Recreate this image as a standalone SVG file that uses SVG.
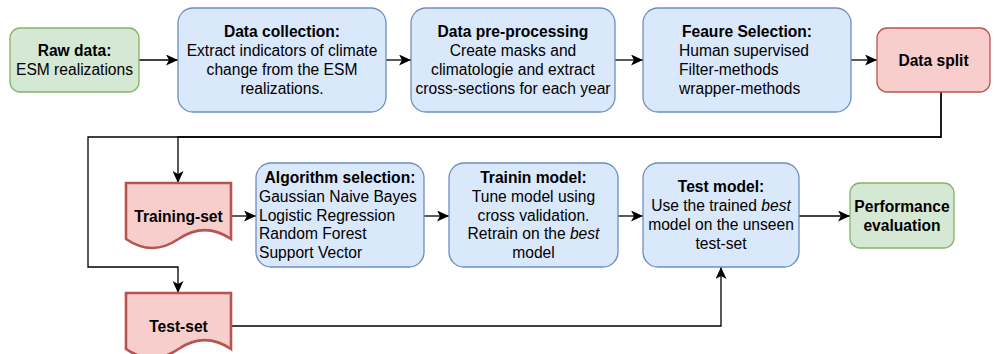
<svg xmlns="http://www.w3.org/2000/svg" width="995" height="354" viewBox="0 0 995 354">
  <style>
    text { font-family: "Liberation Sans", Arial, Helvetica, sans-serif; font-size: 15.6px; fill: #000; }
    .c { text-anchor: middle; }
    .b { font-weight: bold; }
    .i { font-style: italic; }
    .blue { fill: #dae8fc; stroke: #6c8ebf; stroke-width: 1.3; }
    .green { fill: #d5e8d4; stroke: #82b366; stroke-width: 1.3; }
    .red { fill: #f8cecc; stroke: #b85450; stroke-width: 1.3; }
    .doc { fill: #f8cecc; stroke: #b85450; stroke-width: 2.6; }
    .edge { fill: none; stroke: #000; stroke-width: 1.3; marker-end: url(#arrow); }
  </style>
  <defs>
    <marker id="arrow" markerUnits="userSpaceOnUse" markerWidth="13" markerHeight="11" viewBox="0 0 13 11" refX="12" refY="5.5" orient="auto">
      <path d="M0,0 L12,5.5 L0,11 L3,5.5 Z" fill="#000"/>
    </marker>
  </defs>

  <!-- connectors -->
  <g id="edges">
    <path class="edge" d="M139,60 H178"/>
    <path class="edge" d="M386,60 H411"/>
    <path class="edge" d="M615,60 H643"/>
    <path class="edge" d="M851,60 H877"/>
    <path class="edge" d="M941,92 V137 H178 V183"/>
    <path class="edge" d="M941,92 V137 H88 V267 H178 V293"/>
    <path class="edge" d="M231,216 H256"/>
    <path class="edge" d="M424,216 H449"/>
    <path class="edge" d="M618,216 H643"/>
    <path class="edge" d="M799,216 H850"/>
    <path class="edge" d="M231,326 H721 V267"/>
  </g>

  <g id="raw-data">
    <rect class="green" x="10" y="28" width="129" height="64" rx="10"/>
    <text class="c b" x="74.5" y="56">Raw data:</text>
    <text class="c" x="74.5" y="75">ESM realizations</text>
  </g>

  <g id="data-collection">
    <rect class="blue" x="178" y="8" width="208" height="104" rx="15"/>
    <text class="c b" x="282" y="37.4">Data collection:</text>
    <text class="c" x="282" y="56.1">Extract indicators of climate</text>
    <text class="c" x="282" y="74.9">change from the ESM</text>
    <text class="c" x="282" y="93.6">realizations.</text>
  </g>

  <g id="data-preprocessing">
    <rect class="blue" x="411" y="8" width="204" height="104" rx="15"/>
    <text class="c b" x="513" y="37.4">Data pre-processing</text>
    <text class="c" x="513" y="56.1">Create masks and</text>
    <text class="c" x="513" y="74.9">climatologie and extract</text>
    <text class="c" x="513" y="93.6">cross-sections for each year</text>
  </g>

  <g id="feature-selection">
    <rect class="blue" x="643" y="8" width="208" height="104" rx="15"/>
    <text class="c b" x="747" y="37.4">Feaure Selection:</text>
    <text x="679" y="56.1">Human supervised</text>
    <text x="679" y="74.9">Filter-methods</text>
    <text x="679" y="93.6">wrapper-methods</text>
  </g>

  <g id="data-split">
    <rect class="red" x="877" y="28" width="113" height="64" rx="10"/>
    <text class="c b" x="933.5" y="65.5">Data split</text>
  </g>

  <g id="training-set">
    <path class="doc" d="M126,183 H231 V239 Q204.75,221.3 178.5,239 Q152.25,256.9 126,239 Z"/>
    <text class="c b" x="178.5" y="221.5">Training-set</text>
  </g>

  <g id="test-set">
    <path class="doc" d="M126,293 H231 V349 Q204.75,331.3 178.5,349 Q152.25,366.9 126,349 Z"/>
    <text class="c b" x="178.5" y="331.5">Test-set</text>
  </g>

  <g id="algorithm-selection">
    <rect class="blue" x="256" y="163" width="168" height="104" rx="15"/>
    <text class="c b" x="340" y="183.1">Algorithm selection:</text>
    <text x="259" y="201.8">Gaussian Naive Bayes</text>
    <text x="259" y="220.5">Logistic Regression</text>
    <text x="259" y="239.2">Random Forest</text>
    <text x="259" y="257.9">Support Vector</text>
  </g>

  <g id="training-model">
    <rect class="blue" x="449" y="163" width="169" height="104" rx="15"/>
    <text class="c b" x="533.5" y="183.1">Trainin model:</text>
    <text class="c" x="533.5" y="201.8">Tune model using</text>
    <text class="c" x="533.5" y="220.5">cross validation.</text>
    <text class="c" x="533.5" y="239.2">Retrain on the <tspan class="i">best</tspan></text>
    <text class="c" x="533.5" y="257.9">model</text>
  </g>

  <g id="test-model">
    <rect class="blue" x="643" y="163" width="156" height="104" rx="15"/>
    <text class="c b" x="721" y="192.4">Test model:</text>
    <text class="c" x="721" y="211.1">Use the trained <tspan class="i">best</tspan></text>
    <text class="c" x="721" y="229.9">model on the unseen</text>
    <text class="c" x="721" y="248.6">test-set</text>
  </g>

  <g id="performance-evaluation">
    <rect class="green" x="850" y="183" width="104" height="65" rx="10"/>
    <text class="c b" x="902" y="212">Performance</text>
    <text class="c b" x="902" y="230.7">evaluation</text>
  </g>
</svg>
